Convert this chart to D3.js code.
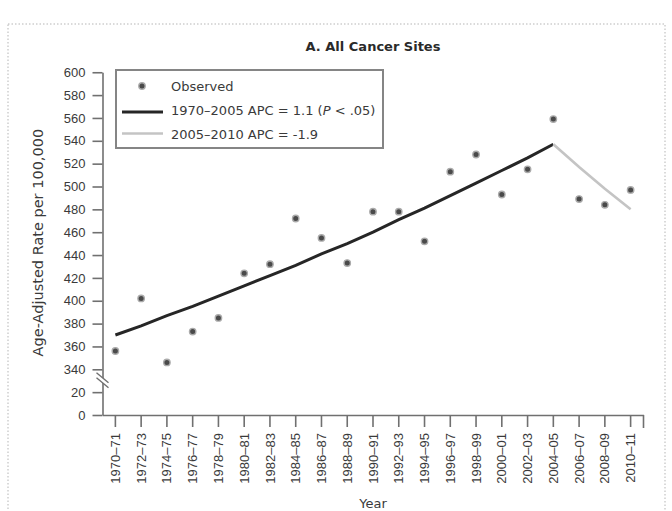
<!DOCTYPE html>
<html>
<head>
<meta charset="utf-8">
<script src="https://cdn.jsdelivr.net/npm/d3@7"></script>
<style>
  body { margin: 0; background: #fff; }
  svg { display: block; font-family: "DejaVu Sans", Verdana, sans-serif; }
</style>
</head>
<body>
<div id="chart"></div>
<script>
// categories (2-year periods)
const categories = ["1970–71", "1972–73", "1974–75", "1976–77", "1978–79", "1980–81", "1982–83",
  "1984–85", "1986–87", "1988–89", "1990–91", "1992–93", "1994–95", "1996–97", "1998–99",
  "2000–01", "2002–03", "2004–05", "2006–07", "2008–09", "2010–11"];

// observed age-adjusted rate per 100,000
const observed = [356, 402, 346, 373, 385, 424, 432, 472, 455, 433, 478, 478, 452, 513, 528,
  493, 515, 559, 489, 484, 497];

// fitted trend 1970-2005 (APC 1.1), 1970–71 .. 2004–05
const trendEarly = [370, 378, 387, 395, 404, 413, 422, 431, 441, 450, 460, 471, 481, 492, 503,
  514, 525, 537];

// fitted trend 2005-2010 (APC -1.9), 2004–05 .. 2010–11
const trendLate = [537, 517, 498, 480];

const yTicks = [0, 20, 340, 360, 380, 400, 420, 440, 460, 480, 500, 520, 540, 560, 580, 600];

const legendItems = ["Observed", "1970–2005 APC = 1.1 (", "2005–2010 APC = -1.9"];

const width = 672;
const height = 511;

const svg = d3.select('#chart')
    .append('svg')
    .attr('width', width)
    .attr('height', height);

// dotted frame
svg.append('rect')
    .attr('x', 8).attr('y', 24)
    .attr('width', 657).attr('height', 520)
    .attr('fill', 'none')
    .attr('stroke', '#b5b5b5')
    .attr('stroke-width', 1)
    .attr('stroke-dasharray', '1.5,2');

const left = 102.5, right = 643.5, bottom = 415, step = 22.85;

const x = d3.scaleBand()
    .domain(categories)
    .range([left, right]);

const cx = d => x(d) + x.bandwidth() / 2;

// broken axis: 20 and 320 share a spot, so 340 sits one step above 20
const y = d3.scaleLinear()
    .domain([0, 20, 320, 600])
    .range([bottom, bottom - step, bottom - step, bottom - 15 * step]);

const axisColor = '#707070';
const textColor = '#3a3a3a';

// y axis
const yAxis = svg.append('g')
    .attr('transform', `translate(${left},0)`)
    .call(d3.axisLeft(y).tickValues(yTicks).tickSize(10).tickSizeOuter(0).tickPadding(7));
yAxis.select('.domain').attr('stroke', axisColor).attr('stroke-width', 1.6);
yAxis.selectAll('.tick line').attr('stroke', axisColor).attr('stroke-width', 1.6);
yAxis.selectAll('.tick text')
    .attr('font-size', 13)
    .attr('fill', textColor);

// x axis
const xAxis = svg.append('g')
    .attr('transform', `translate(0,${bottom})`)
    .call(d3.axisBottom(x).tickSize(12).tickSizeOuter(0));
xAxis.select('.domain').attr('stroke', axisColor).attr('stroke-width', 1.6);
xAxis.selectAll('.tick line').attr('stroke', axisColor).attr('stroke-width', 1.6);
xAxis.selectAll('.tick text')
    .attr('font-size', 13)
    .attr('fill', textColor)
    .attr('transform', 'rotate(-90)')
    .attr('x', -18)
    .attr('y', 0)
    .attr('dy', '0.35em')
    .attr('text-anchor', 'end');
// end tick on the right
xAxis.append('line')
    .attr('x1', right).attr('x2', right)
    .attr('y1', 0).attr('y2', 13)
    .attr('stroke', axisColor).attr('stroke-width', 1.6);

// axis break marks
const breakY = (y(20) + y(340)) / 2;
const brk = svg.append('g').attr('transform', `translate(${left},${breakY})`);
brk.append('polygon')
    .attr('points', '-6,-8 6,2 6,7 -6,-3')
    .attr('fill', '#fff');
brk.append('line').attr('x1', -6).attr('y1', -8).attr('x2', 6).attr('y2', 2)
    .attr('stroke', axisColor).attr('stroke-width', 1.4);
brk.append('line').attr('x1', -6).attr('y1', -3).attr('x2', 6).attr('y2', 7)
    .attr('stroke', axisColor).attr('stroke-width', 1.4);

// title
svg.append('text')
    .attr('x', (left + right) / 2)
    .attr('y', 51)
    .attr('text-anchor', 'middle')
    .attr('font-size', 13)
    .attr('font-weight', 'bold')
    .attr('fill', '#2a2a2a')
    .text('A. All Cancer Sites');

// axis titles
svg.append('text')
    .attr('transform', `translate(43,${(y(600) + bottom) / 2 - 1}) rotate(-90)`)
    .attr('text-anchor', 'middle')
    .attr('font-size', 14.5)
    .attr('fill', textColor)
    .text('Age-Adjusted Rate per 100,000');

svg.append('text')
    .attr('x', (left + right) / 2)
    .attr('y', 508)
    .attr('text-anchor', 'middle')
    .attr('font-size', 13)
    .attr('fill', textColor)
    .text('Year');

// trend lines
const line = d3.line()
    .x(d => cx(d.cat))
    .y(d => y(d.v));

svg.append('path')
    .datum(trendEarly.map((v, i) => ({ cat: categories[i], v })))
    .attr('d', line)
    .attr('fill', 'none')
    .attr('stroke', '#262626')
    .attr('stroke-width', 3);

svg.append('path')
    .datum(trendLate.map((v, i) => ({ cat: categories[17 + i], v })))
    .attr('d', line)
    .attr('fill', 'none')
    .attr('stroke', '#c4c4c4')
    .attr('stroke-width', 2.6);

// observed points
svg.selectAll('.pt')
    .data(observed)
    .enter()
    .append('circle')
    .attr('class', 'pt')
    .attr('cx', (d, i) => cx(categories[i]))
    .attr('cy', d => y(d))
    .attr('r', 3.2)
    .attr('fill', '#4a4a4a')
    .attr('stroke', '#ababab')
    .attr('stroke-width', 1.4);

// legend
const lg = svg.append('g');
lg.append('rect')
    .attr('x', 116).attr('y', 70)
    .attr('width', 267).attr('height', 78)
    .attr('fill', '#fff')
    .attr('stroke', '#858585')
    .attr('stroke-width', 2);

lg.append('circle')
    .attr('cx', 142).attr('cy', 86)
    .attr('r', 3.2)
    .attr('fill', '#4a4a4a')
    .attr('stroke', '#ababab')
    .attr('stroke-width', 1.4);
lg.append('line')
    .attr('x1', 122).attr('x2', 163).attr('y1', 112).attr('y2', 112)
    .attr('stroke', '#262626').attr('stroke-width', 3);
lg.append('line')
    .attr('x1', 122).attr('x2', 163).attr('y1', 133.5).attr('y2', 133.5)
    .attr('stroke', '#c4c4c4').attr('stroke-width', 2.6);

const rows = [90.5, 114.5, 138.5];
legendItems.forEach((t, i) => {
    const tx = lg.append('text')
        .attr('x', 171).attr('y', rows[i])
        .attr('font-size', 13)
        .attr('fill', textColor)
        .text(t);
    if (i === 1) {
        tx.append('tspan').attr('font-style', 'italic').text('P');
        tx.append('tspan').text(' < .05)');
    }
});
</script>
</body>
</html>
